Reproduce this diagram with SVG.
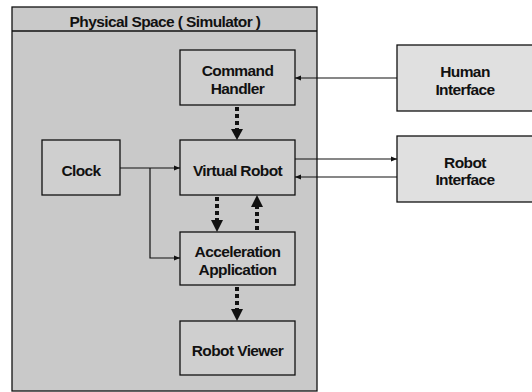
<svg xmlns="http://www.w3.org/2000/svg" width="532" height="392" viewBox="0 0 532 392">
<defs>
<style>
.box{fill:#cfcfcf;stroke:#111;stroke-width:1.3}
.ext{fill:#e0e0e0;stroke:#111;stroke-width:1.3}
.t{font-family:"Liberation Sans",Arial,sans-serif;font-size:15.5px;font-weight:bold;fill:#111;text-anchor:middle;letter-spacing:-0.6px}
.ln{fill:none;stroke:#111;stroke-width:1.2}
.dot{fill:none;stroke:#111;stroke-width:4;stroke-dasharray:4 3}
</style>
<marker id="a" viewBox="0 0 10 10" refX="10" refY="5" markerWidth="6" markerHeight="6" markerUnits="userSpaceOnUse" orient="auto">
<path d="M0,1 L10,5 L0,9 z" fill="#111"/>
</marker>
</defs>
<rect width="532" height="392" fill="#fff"/>
<g id="physical-space">
<rect x="12" y="7" width="305" height="384" fill="#c9c9c9" stroke="#111" stroke-width="1.3"/>
<line x1="12" y1="31" x2="317" y2="31" stroke="#111" stroke-width="1.3"/>
<text class="t" x="165" y="27">Physical Space ( Simulator )</text>
</g>
<g id="command-handler">
<rect class="box" x="180" y="50" width="115" height="55"/>
<text class="t" x="237.5" y="76">Command</text>
<text class="t" x="237.5" y="94">Handler</text>
</g>
<g id="clock">
<rect class="box" x="42" y="140" width="78" height="55"/>
<text class="t" x="81" y="175.5">Clock</text>
</g>
<g id="virtual-robot">
<rect class="box" x="180" y="140" width="115" height="55"/>
<text class="t" x="237.5" y="175.5">Virtual Robot</text>
</g>
<g id="acceleration-application">
<rect class="box" x="180" y="232" width="115" height="53"/>
<text class="t" x="237.5" y="256.5">Acceleration</text>
<text class="t" x="237.5" y="274.5">Application</text>
</g>
<g id="robot-viewer">
<rect class="box" x="180" y="321" width="115" height="54"/>
<text class="t" x="237.5" y="355.5">Robot Viewer</text>
</g>
<g id="human-interface">
<rect class="ext" x="397" y="45" width="140" height="66"/>
<text class="t" x="465" y="77">Human</text>
<text class="t" x="465" y="95">Interface</text>
</g>
<g id="robot-interface">
<rect class="ext" x="397" y="136" width="140" height="66"/>
<text class="t" x="465" y="168">Robot</text>
<text class="t" x="465" y="185">Interface</text>
</g>
<g id="connectors">
<line class="ln" x1="397" y1="78" x2="295" y2="78" marker-end="url(#a)"/>
<line class="ln" x1="295" y1="159" x2="397" y2="159" marker-end="url(#a)"/>
<line class="ln" x1="397" y1="177" x2="295" y2="177" marker-end="url(#a)"/>
<line class="ln" x1="120" y1="168" x2="180" y2="168" marker-end="url(#a)"/>
<polyline class="ln" points="150,168 150,258 180,258" marker-end="url(#a)"/>
<line class="dot" x1="237" y1="107" x2="237" y2="130"/>
<path d="M231,129 L243,129 L237,140 z" fill="#111"/>
<line class="dot" x1="217" y1="197" x2="217" y2="221"/>
<path d="M211,220 L223,220 L217,232 z" fill="#111"/>
<line class="dot" x1="257" y1="230" x2="257" y2="206"/>
<path d="M251,207 L263,207 L257,195 z" fill="#111"/>
<line class="dot" x1="237" y1="287" x2="237" y2="310"/>
<path d="M231,309 L243,309 L237,321 z" fill="#111"/>
</g>
</svg>
